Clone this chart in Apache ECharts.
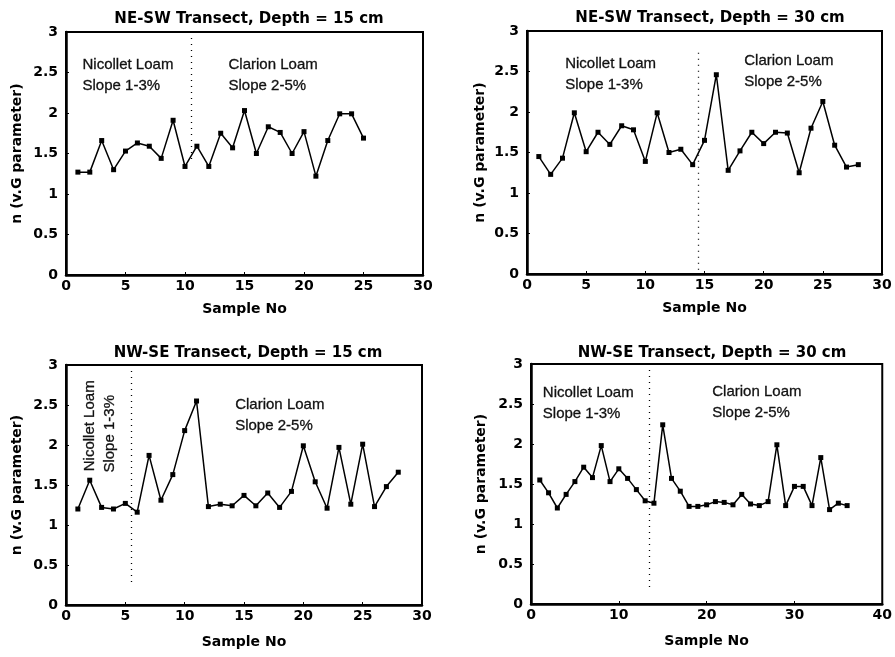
<!DOCTYPE html>
<html>
<head>
<meta charset="utf-8">
<script src="https://cdn.jsdelivr.net/npm/echarts@6/dist/echarts.min.js"></script>
<style>
  html, body { margin: 0; padding: 0; background: #fff; }
  #main { width: 895px; height: 657px; }
</style>
</head>
<body>
<div id="main"></div>
<script>
// n (van Genuchten parameter) per sample
var neSw15 = [1.27, 1.27, 1.66, 1.30, 1.53, 1.63, 1.59, 1.44, 1.91, 1.34,
              1.59, 1.34, 1.75, 1.57, 2.03, 1.50, 1.83, 1.76, 1.50, 1.77,
              1.22, 1.66, 1.99, 1.99, 1.69];
var neSw30 = [1.45, 1.23, 1.43, 1.99, 1.51, 1.75, 1.60, 1.83, 1.78, 1.39,
              1.99, 1.50, 1.54, 1.35, 1.65, 2.46, 1.28, 1.52, 1.75, 1.61,
              1.75, 1.74, 1.25, 1.80, 2.13, 1.59, 1.32, 1.35];
var nwSe15 = [1.20, 1.56, 1.22, 1.20, 1.27, 1.16, 1.87, 1.31, 1.63, 2.18,
              2.55, 1.23, 1.26, 1.24, 1.37, 1.24, 1.40, 1.22, 1.42, 1.99,
              1.54, 1.21, 1.97, 1.26, 2.01, 1.23, 1.48, 1.66];
var nwSe30 = [1.55, 1.39, 1.20, 1.37, 1.53, 1.71, 1.58, 1.98, 1.53, 1.69,
              1.57, 1.43, 1.29, 1.26, 2.24, 1.57, 1.41, 1.22, 1.22, 1.24,
              1.28, 1.27, 1.24, 1.37, 1.25, 1.23, 1.28, 1.99, 1.23, 1.47,
              1.47, 1.23, 1.83, 1.18, 1.26, 1.23];

var titles = ['NE-SW Transect, Depth = 15 cm', 'NE-SW Transect, Depth = 30 cm',
              'NW-SE Transect, Depth = 15 cm', 'NW-SE Transect, Depth = 30 cm'];
var xMaxes = [30, 30, 30, 40];
var xIntervals = [5, 5, 5, 10];
// soil boundary between Nicollet and Clarion loam: [x, yTop, yBottom]
var boundaries = [[10.5, 3, 1.38], [14.5, 2.73, 0], [5.5, 3, 0.23], [13.5, 3, 0.16]];

var allData = [neSw15, neSw30, nwSe15, nwSe30];

var grids = [
    {left: 66, top: 32, width: 357, height: 243},
    {left: 527, top: 31, width: 355, height: 243},
    {left: 66, top: 365, width: 356, height: 240},
    {left: 531, top: 364, width: 353, height: 240}
];
var titlePos = [[244, 7], [705, 6], [243, 341], [707, 341]];
var xNameGap = [27, 27, 30, 30];
var yNameGap = [42, 40, 42, 43];

var heavy = 'DejaVu Sans, Verdana, sans-serif';
var font = 'Liberation Sans, Arial, sans-serif';

function pairs(arr) {
    var out = [];
    for (var i = 0; i < arr.length; i++) out.push([i + 1, arr[i]]);
    return out;
}

function note(x, y, text, rot) {
    var lbl = {show: true, formatter: text, fontFamily: font, fontSize: 15, color: '#111',
               lineHeight: 21, textBorderColor: '#111', textBorderWidth: 0.3};
    if (rot) {
        lbl.rotate = 90;
        lbl.position = 'inside';
        lbl.align = 'center';
        lbl.verticalAlign = 'middle';
    } else {
        lbl.position = [0, 0];
        lbl.align = 'left';
        lbl.verticalAlign = 'top';
    }
    return {coord: [x, y], symbol: 'rect', symbolSize: 1, itemStyle: {color: 'rgba(0,0,0,0)'}, label: lbl};
}

var notes = [
    [note(1.43, 2.72, 'Nicollet Loam\nSlope 1-3%'), note(13.7, 2.72, 'Clarion Loam\nSlope 2-5%')],
    [note(3.27, 2.72, 'Nicollet Loam\nSlope 1-3%'), note(18.4, 2.75, 'Clarion Loam\nSlope 2-5%')],
    [note(2.02, 2.24, 'Nicollet Loam', true), note(3.7, 2.14, 'Slope 1-3%', true),
     note(14.3, 2.63, 'Clarion Loam\nSlope 2-5%')],
    [note(1.4, 2.76, 'Nicollet Loam\nSlope 1-3%'), note(20.7, 2.78, 'Clarion Loam\nSlope 2-5%')]
];

var option = {
    animation: false,
    backgroundColor: '#fff',
    title: [], grid: [], xAxis: [], yAxis: [], series: []
};

for (var k = 0; k < 4; k++) {
    option.title.push({
        text: titles[k], left: titlePos[k][0], top: titlePos[k][1], textAlign: 'center',
        textStyle: {fontFamily: heavy, fontSize: 15, fontWeight: 'bold', color: '#000'}
    });
    option.grid.push({
        left: grids[k].left, top: grids[k].top, width: grids[k].width, height: grids[k].height,
        show: true, borderColor: '#000', borderWidth: 2, backgroundColor: 'transparent'
    });
    option.xAxis.push({
        gridIndex: k, type: 'value', min: 0, max: xMaxes[k], interval: xIntervals[k],
        name: 'Sample No', nameLocation: 'middle', nameGap: xNameGap[k],
        nameTextStyle: {fontFamily: heavy, fontSize: 14, fontWeight: 'bold', color: '#000'},
        axisLine: {lineStyle: {color: '#000', width: 2.5}},
        axisTick: {show: true, inside: true, length: 3, lineStyle: {color: '#000', width: 1}},
        splitLine: {show: false},
        axisLabel: {fontFamily: heavy, fontSize: 14, fontWeight: 'bold', color: '#000', margin: 4}
    });
    option.yAxis.push({
        gridIndex: k, type: 'value', min: 0, max: 3, interval: 0.5,
        name: 'n (v.G parameter)', nameLocation: 'middle', nameGap: yNameGap[k], nameRotate: 90,
        nameTextStyle: {fontFamily: heavy, fontSize: 14, fontWeight: 'bold', color: '#000'},
        axisLine: {lineStyle: {color: '#000', width: 2.5}},
        axisTick: {show: true, inside: true, length: 3, lineStyle: {color: '#000', width: 1}},
        splitLine: {show: false},
        axisLabel: {fontFamily: heavy, fontSize: 14, fontWeight: 'bold', color: '#000', margin: 8}
    });
    var b = boundaries[k];
    option.series.push({
        type: 'line', xAxisIndex: k, yAxisIndex: k,
        data: pairs(allData[k]),
        symbol: 'rect', symbolSize: 5,
        lineStyle: {color: '#000', width: 1.5},
        itemStyle: {color: '#000'},
        markLine: {
            silent: true, symbol: 'none', label: {show: false},
            lineStyle: {color: '#000', type: [1, 5], width: 1.3},
            data: [[{coord: [b[0], b[1]]}, {coord: [b[0], b[2]]}]]
        },
        markPoint: {silent: true, data: notes[k]}
    });
}

echarts.init(document.getElementById('main')).setOption(option);
</script>
</body>
</html>
